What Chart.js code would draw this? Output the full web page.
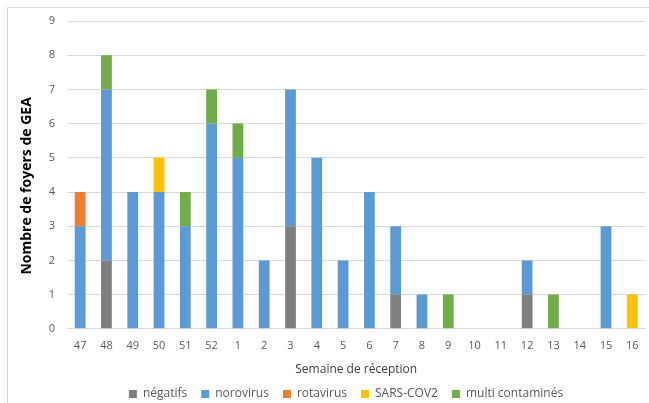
<!DOCTYPE html>
<html>
<head>
<meta charset="utf-8">
<script src="https://cdn.jsdelivr.net/npm/chart.js@4/dist/chart.umd.min.js"></script>
<style>
  html, body { margin: 0; padding: 0; background: #ffffff; }
  #wrap { width: 649px; height: 403px; position: relative; }
</style>
</head>
<body>
<div id="wrap"><canvas id="c" width="649" height="403"></canvas></div>
<script>
const weeks = ['47','48','49','50','51','52','1','2','3','4','5','6','7','8','9','10','11','12','13','14','15','16'];
const negatifs   = [0,2,0,0,0,0,0,0,3,0,0,0,1,0,0,0,0,1,0,0,0,0];
const norovirus  = [3,5,4,4,3,6,5,2,4,5,2,4,2,1,0,0,0,1,0,0,3,0];
const rotavirus  = [1,0,0,0,0,0,0,0,0,0,0,0,0,0,0,0,0,0,0,0,0,0];
const sarsCov2   = [0,0,0,1,0,0,0,0,0,0,0,0,0,0,0,0,0,0,0,0,0,1];
const multi      = [0,1,0,0,1,1,1,0,0,0,0,0,0,0,1,0,0,0,1,0,0,0];
const yTicks     = [0,1,2,3,4,5,6,7,8,9];

const FONT = '"Open Sans", "Liberation Sans", sans-serif';
const TXT = '#595959';
const GRID = '#d9d9d9';

const frame = {
  id: 'frame',
  beforeDraw(chart) {
    const ctx = chart.ctx;
    ctx.save();
    ctx.fillStyle = '#ffffff';
    ctx.fillRect(0, 0, chart.width, chart.height);
    ctx.strokeStyle = GRID;
    ctx.lineWidth = 1;
    ctx.beginPath();
    ctx.moveTo(7.5, chart.height);
    ctx.lineTo(7.5, 7.5);
    ctx.lineTo(chart.width, 7.5);
    ctx.stroke();
    ctx.restore();
  }
};

// Shift the y-axis title a little lower, as in the reference
const titleShift = {
  id: 'titleShift',
  afterLayout(chart) {
    const s = chart.scales.y;
    if (s && !s._shiftPatched) {
      const orig = s.drawTitle.bind(s);
      s.drawTitle = function () {
        const t = this.top, b = this.bottom;
        this.top = t + 11; this.bottom = b + 11;
        orig();
        this.top = t; this.bottom = b;
      };
      s._shiftPatched = true;
    }
  }
};

function ds(label, data, color) {
  return {
    label, data: data.map(v => v === 0 ? null : v),
    backgroundColor: color, borderWidth: 0,
    barPercentage: 0.41, categoryPercentage: 1.0
  };
}

new Chart(document.getElementById('c'), {
  type: 'bar',
  data: {
    labels: weeks,
    datasets: [
      ds('négatifs', negatifs, '#7f7f7f'),
      ds('norovirus', norovirus, '#5b9bd5'),
      ds('rotavirus', rotavirus, '#ed7d31'),
      ds('SARS-COV2', sarsCov2, '#ffc000'),
      ds('multi contaminés', multi, '#70ad47')
    ]
  },
  options: {
    responsive: false,
    animation: false,
    devicePixelRatio: 1,
    layout: { padding: { top: 21, right: 0, bottom: -7, left: 43 } },
    plugins: {
      tooltip: { enabled: false },
      legend: {
        position: 'bottom',
        labels: {
          font: { family: FONT, size: 12 },
          color: TXT,
          boxWidth: 8, boxHeight: 8,
          padding: 14
        }
      }
    },
    scales: {
      x: {
        stacked: true,
        grid: { display: false, drawTicks: false },
        border: { display: true, color: GRID, width: 1 },
        ticks: { font: { family: FONT, size: 11 }, color: TXT, padding: 10.4, maxRotation: 0, autoSkip: false },
        title: { display: true, text: 'Semaine de réception', font: { family: FONT, size: 12 }, color: '#404040', padding: { top: 0, bottom: -3.2 } }
      },
      y: {
        stacked: true,
        min: 0, max: 9,
        afterFit(scale) { scale.width = 24; },
        afterBuildTicks(scale) { scale.ticks = yTicks.map(v => ({ value: v })); },
        grid: { color: GRID, lineWidth: 1, drawTicks: false },
        border: { display: false },
        ticks: { font: { family: FONT, size: 11 }, color: TXT, padding: 12 },
        title: { display: true, text: 'Nombre de foyers de GEA', font: { family: FONT, size: 14, weight: 'bold' }, color: '#000000', padding: { top: -24.4, bottom: 0 } }
      }
    }
  },
  plugins: [frame, titleShift]
});
</script>
</body>
</html>
